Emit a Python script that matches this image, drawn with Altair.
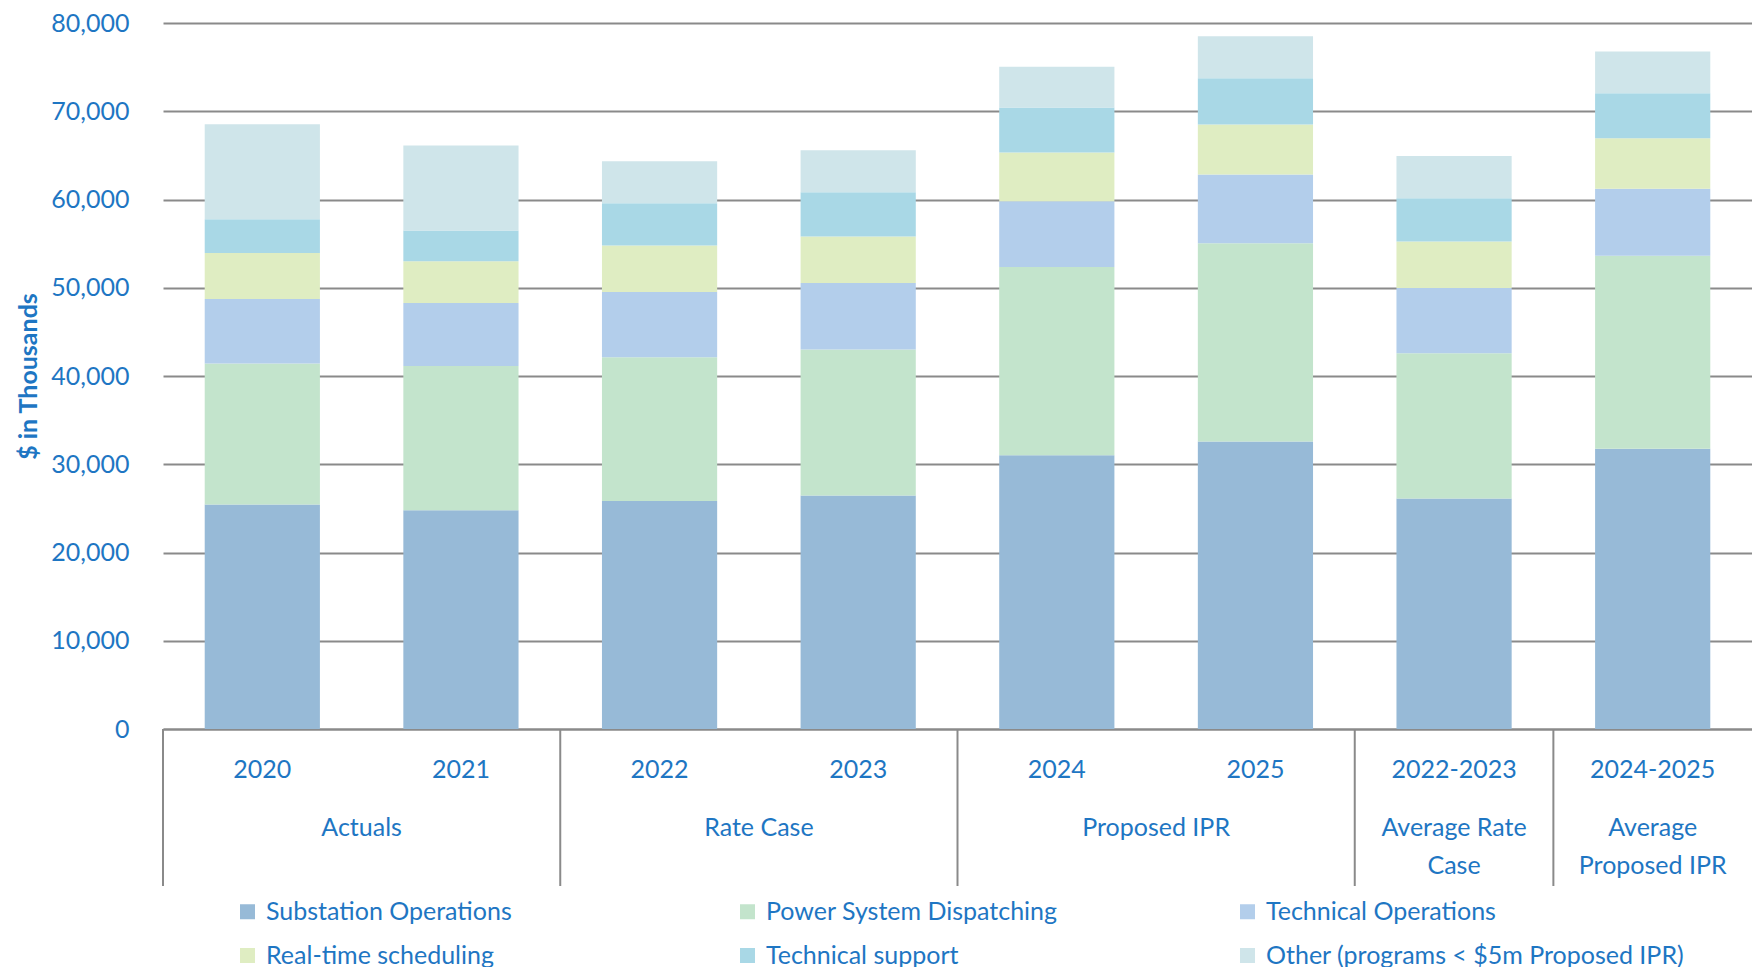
import altair as alt
import pandas as pd

# ---- data ----
categories = ["2020", "2021", "2022", "2023", "2024", "2025", "2022-2023", "2024-2025"]
group_labels = ["Actuals", "Rate Case", "Proposed IPR", "Average Rate\nCase", "Average\nProposed IPR"]
group_sizes = [2, 2, 2, 1, 1]

series = [
    "Substation Operations",
    "Power System Dispatching",
    "Technical Operations",
    "Real-time scheduling",
    "Technical support",
    "Other (programs < $5m Proposed IPR)",
]
substation = [25440, 24800, 25830, 26460, 31030, 32590, 26110, 31770]
dispatching = [15980, 16320, 16300, 16550, 21330, 22450, 16460, 21860]
tech_ops = [7300, 7150, 7400, 7520, 7450, 7790, 7410, 7600]
realtime = [5220, 4730, 5270, 5270, 5510, 5660, 5250, 5700]
tech_support = [3830, 3500, 4770, 5010, 5110, 5250, 4920, 5100]
other = [10760, 9610, 4770, 4770, 4620, 4770, 4770, 4730]

y_ticks = [0, 10000, 20000, 30000, 40000, 50000, 60000, 70000, 80000]

colors = ["#97BAD7", "#C3E4CC", "#B3CEEB", "#DFEDC2", "#A9D8E6", "#CFE5EA"]
BLUE = "#1E76C3"
GRID = "#8A8A8A"
FONT = "Lato"

# ---- tables ----
values_by_series = [substation, dispatching, tech_ops, realtime, tech_support, other]
rows = []
for si, (name, vals) in enumerate(zip(series, values_by_series)):
    for cat, v in zip(categories, vals):
        rows.append({"category": cat, "series": name, "idx": si, "value": v})
df = pd.DataFrame(rows)

bounds = [0]
for s in group_sizes:
    bounds.append(bounds[-1] + s)
sep_df = pd.DataFrame({"pos": bounds[:-1]})
grp_df = pd.DataFrame({
    "pos": [(bounds[i] + bounds[i + 1]) / 2 for i in range(len(group_sizes))],
    "label": group_labels,
})
n = len(categories)

W, H = 1589, 706

bars = alt.Chart(df).mark_bar().encode(
    x=alt.X(
        "category:N",
        sort=categories,
        scale=alt.Scale(paddingInner=0.42, paddingOuter=0.21),
        axis=alt.Axis(
            title=None, labelAngle=0, ticks=False, labelPadding=28,
            labelFontSize=25, labelColor=BLUE, labelFont=FONT,
            domainColor=GRID, domainWidth=2, grid=False,
        ),
    ),
    y=alt.Y(
        "value:Q",
        stack="zero",
        scale=alt.Scale(domain=[0, 80000], nice=False),
        axis=alt.Axis(
            values=y_ticks, format=",d", title="$ in Thousands",
            grid=True, gridColor=GRID, gridWidth=2, domain=False, ticks=False,
            labelPadding=34, labelFontSize=25, labelColor=BLUE, labelFont=FONT,
            titleFontSize=25, titleFontWeight="bold", titleColor=BLUE, titleFont=FONT,
            titleX=-135, titleY=H / 2, titleAngle=270, titleBaseline="middle", titleAlign="center",
        ),
    ),
    color=alt.Color(
        "series:N",
        sort=series,
        scale=alt.Scale(domain=series, range=colors),
        legend=alt.Legend(
            title=None, orient="none", legendX=72, legendY=876, columns=3,
            direction="horizontal",
            gridAlign="all", columnPadding=50, rowPadding=18,
            symbolType="square", symbolSize=225, symbolStrokeWidth=0,
            labelFontSize=25, labelColor=BLUE, labelFont=FONT, labelOffset=6,
            labelLimit=700, padding=0,
        ),
    ),
    order=alt.Order("idx:Q", sort="ascending"),
)

xq = alt.X("pos:Q", scale=alt.Scale(domain=[0, n], nice=False, zero=False), axis=None)

seps = alt.Chart(sep_df).mark_rule(color=GRID, strokeWidth=2).encode(
    x=xq, y=alt.value(H), y2=alt.value(863)
)

grp = alt.Chart(grp_df).mark_text(
    lineBreak="\n", baseline="top", align="center", fontSize=25,
    color=BLUE, font=FONT, lineHeight=38,
).encode(x=xq, y=alt.value(793), text="label:N")

chart = (
    alt.layer(bars, seps, grp)
    .resolve_scale(x="independent")
    .properties(
        width=W, height=H,
        autosize=alt.AutoSizeParams(type="none"),
        padding={"left": 155, "top": 15, "right": 0, "bottom": 238},
    )
    .configure_view(stroke=None)
)

chart.save("out.html", embed_options={"renderer": "svg", "actions": False})
